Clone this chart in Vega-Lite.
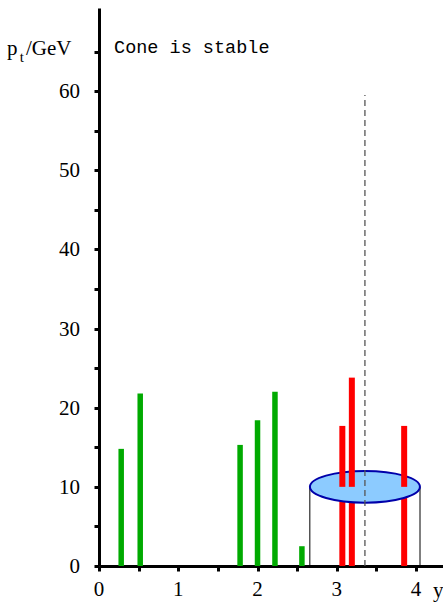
{
  "$schema": "https://vega.github.io/schema/vega-lite/v6.json",
  "width": 344,
  "height": 558,
  "autosize": {"type": "none"},
  "padding": {"left": 99, "top": 8, "right": 0, "bottom": 39},
  "background": "white",
  "config": {
    "font": "Liberation Serif",
    "view": {"stroke": null},
    "axis": {
      "grid": false,
      "domainColor": "black",
      "domainWidth": 3,
      "tickColor": "black",
      "tickWidth": 3,
      "tickSize": 5,
      "labels": false
    }
  },
  "datasets": {
    "tracks": [
      {"rap": 0.28, "pt": 14.8, "type": "outside"},
      {"rap": 0.52, "pt": 21.8, "type": "outside"},
      {"rap": 1.78, "pt": 15.3, "type": "outside"},
      {"rap": 2.0, "pt": 18.4, "type": "outside"},
      {"rap": 2.22, "pt": 22.0, "type": "outside"},
      {"rap": 2.56, "pt": 2.5, "type": "outside"},
      {"rap": 3.07, "pt": 17.7, "type": "inside"},
      {"rap": 3.19, "pt": 23.8, "type": "inside"},
      {"rap": 3.85, "pt": 17.7, "type": "inside"}
    ],
    "cone": [{"center": 3.355, "level": 10, "top": 59.5, "floor": 0}],
    "edges": [{"edge": 2.66, "base": 0, "level": 10}, {"edge": 4.05, "base": 0, "level": 10}],
    "yticks": [{"v": 0}, {"v": 10}, {"v": 20}, {"v": 30}, {"v": 40}, {"v": 50}, {"v": 60}],
    "xticks": [{"v": 0}, {"v": 1}, {"v": 2}, {"v": 3}, {"v": 4}],
    "labels": [
      {"lx": 0.19, "ly": 64.85, "txt": "Cone is stable", "kind": "note"},
      {"lx": -1.161, "ly": 64.5, "txt": "p", "kind": "big"},
      {"lx": -1.0, "ly": 63.7, "txt": "t", "kind": "sub"},
      {"lx": -0.921, "ly": 64.5, "txt": "/GeV", "kind": "big"},
      {"lx": 4.214, "ly": -3.9, "txt": "y", "kind": "big"}
    ]
  },
  "layer": [
    {
      "data": {"name": "tracks"},
      "transform": [{"filter": "datum.type == 'outside'"}, {"calculate": "0", "as": "base"}],
      "mark": {"type": "rule", "color": "#00aa00", "strokeWidth": 5.5},
      "encoding": {
        "x": {
          "field": "rap", "type": "quantitative",
          "scale": {"domain": [0, 4.34], "nice": false, "zero": false},
          "axis": {
            "title": null,
            "labels": false,
            "values": [0, 0.5, 1, 1.5, 2, 2.5, 3, 3.5, 4]
          }
        },
        "y": {
          "field": "base", "type": "quantitative",
          "scale": {"domain": [0, 70.5], "nice": false, "zero": false},
          "axis": {
            "title": null,
            "labels": false,
            "values": [0, 5, 10, 15, 20, 25, 30, 35, 40, 45, 50, 55, 60, 65]
          }
        },
        "y2": {"field": "pt"}
      }
    },
    {
      "data": {"name": "tracks"},
      "transform": [{"filter": "datum.type == 'inside'"}, {"calculate": "0", "as": "base"}, {"calculate": "10", "as": "level"}],
      "mark": {"type": "rule", "color": "#ff0000", "strokeWidth": 6},
      "encoding": {
        "x": {"field": "rap", "type": "quantitative", "title": null},
        "y": {"field": "base", "type": "quantitative", "title": null},
        "y2": {"field": "level"}
      }
    },
    {
      "data": {"name": "edges"},
      "mark": {"type": "rule", "color": "black", "strokeWidth": 1},
      "encoding": {
        "x": {"field": "edge", "type": "quantitative", "title": null},
        "y": {"field": "base", "type": "quantitative", "title": null},
        "y2": {"field": "level"}
      }
    },
    {
      "data": {"name": "cone"},
      "mark": {
        "type": "point",
        "shape": "M-1,0A1,0.288,0,1,1,1,0A1,0.288,0,1,1,-1,0Z",
        "size": 12100,
        "filled": true,
        "fill": "#8ccbff",
        "stroke": "#0000aa",
        "strokeWidth": 2,
        "opacity": 1,
        "fillOpacity": 1
      },
      "encoding": {
        "x": {"field": "center", "type": "quantitative", "title": null},
        "y": {"field": "level", "type": "quantitative", "title": null}
      }
    },
    {
      "data": {"name": "tracks"},
      "transform": [{"filter": "datum.type == 'inside'"}, {"calculate": "10", "as": "level"}],
      "mark": {"type": "rule", "color": "#ff0000", "strokeWidth": 6},
      "encoding": {
        "x": {"field": "rap", "type": "quantitative", "title": null},
        "y": {"field": "level", "type": "quantitative", "title": null},
        "y2": {"field": "pt"}
      }
    },
    {
      "data": {"name": "cone"},
      "mark": {"type": "rule", "color": "#555555", "strokeWidth": 1.3, "strokeDash": [6, 4]},
      "encoding": {
        "x": {"field": "center", "type": "quantitative", "title": null},
        "y": {"field": "floor", "type": "quantitative", "title": null},
        "y2": {"field": "top"}
      }
    },
    {
      "data": {"name": "yticks"},
      "transform": [{"calculate": "0", "as": "axisPos"}],
      "mark": {"type": "text", "font": "Liberation Serif", "fontSize": 21, "align": "right", "baseline": "middle", "dx": -19, "dy": 1, "color": "black"},
      "encoding": {
        "x": {"field": "axisPos", "type": "quantitative", "title": null},
        "y": {"field": "v", "type": "quantitative", "title": null},
        "text": {"field": "v", "type": "quantitative", "format": "d"}
      }
    },
    {
      "data": {"name": "xticks"},
      "transform": [{"calculate": "0", "as": "axisPos"}],
      "mark": {"type": "text", "font": "Liberation Serif", "fontSize": 21, "align": "center", "baseline": "alphabetic", "dy": 30, "color": "black"},
      "encoding": {
        "x": {"field": "v", "type": "quantitative", "title": null},
        "y": {"field": "axisPos", "type": "quantitative", "title": null},
        "text": {"field": "v", "type": "quantitative", "format": "d"}
      }
    },
    {
      "data": {"name": "labels"},
      "transform": [{"filter": "datum.kind == 'note'"}],
      "mark": {"type": "text", "font": "Liberation Mono", "fontSize": 18.5, "align": "left", "baseline": "alphabetic", "color": "black"},
      "encoding": {
        "x": {"field": "lx", "type": "quantitative", "title": null},
        "y": {"field": "ly", "type": "quantitative", "title": null},
        "text": {"field": "txt"}
      }
    },
    {
      "data": {"name": "labels"},
      "transform": [{"filter": "datum.kind == 'big'"}],
      "mark": {"type": "text", "font": "Liberation Serif", "fontSize": 21, "align": "left", "baseline": "alphabetic", "color": "black"},
      "encoding": {
        "x": {"field": "lx", "type": "quantitative", "title": null},
        "y": {"field": "ly", "type": "quantitative", "title": null},
        "text": {"field": "txt"}
      }
    },
    {
      "data": {"name": "labels"},
      "transform": [{"filter": "datum.kind == 'sub'"}],
      "mark": {"type": "text", "font": "Liberation Serif", "fontSize": 15, "align": "left", "baseline": "alphabetic", "color": "black"},
      "encoding": {
        "x": {"field": "lx", "type": "quantitative", "title": null},
        "y": {"field": "ly", "type": "quantitative", "title": null},
        "text": {"field": "txt"}
      }
    }
  ]
}
